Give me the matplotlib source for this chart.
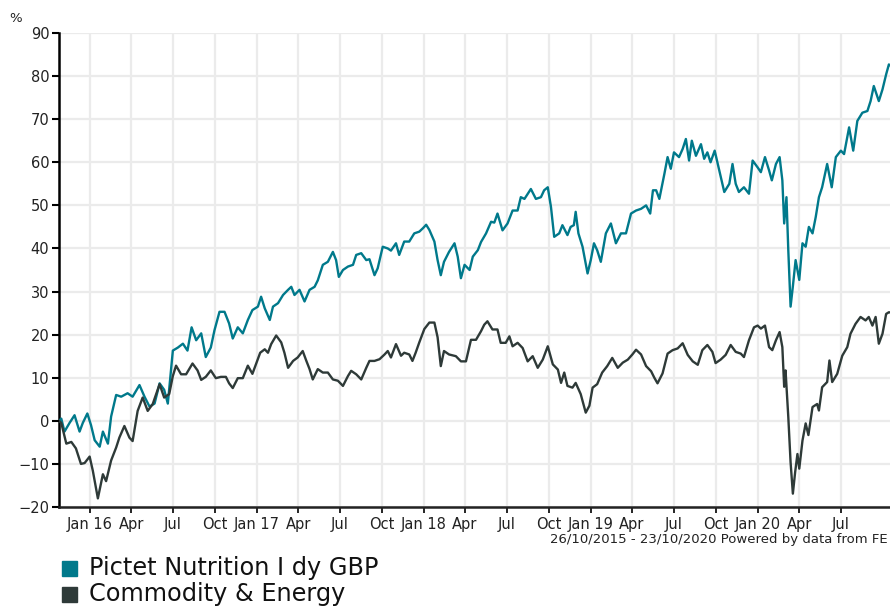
import pandas as pd
import matplotlib
matplotlib.use("Agg")
import matplotlib.pyplot as plt
from matplotlib.patches import Rectangle

# Cumulative performance (%)
pictet_dates = [
    "2015-10-26", "2015-10-31", "2015-11-07", "2015-11-18", "2015-11-29", "2015-12-10",
    "2015-12-17", "2015-12-27", "2016-01-04", "2016-01-12", "2016-01-23", "2016-01-30",
    "2016-02-10", "2016-02-17", "2016-02-28", "2016-03-10", "2016-03-24", "2016-04-04",
    "2016-04-19", "2016-04-30", "2016-05-11", "2016-05-22", "2016-06-02", "2016-06-12",
    "2016-06-20", "2016-07-01", "2016-07-12", "2016-07-23", "2016-08-02", "2016-08-11",
    "2016-08-21", "2016-09-01", "2016-09-11", "2016-09-22", "2016-09-30", "2016-10-11",
    "2016-10-22", "2016-11-01", "2016-11-09", "2016-11-20", "2016-12-01", "2016-12-12",
    "2016-12-22", "2017-01-03", "2017-01-10", "2017-01-18", "2017-01-29", "2017-02-05",
    "2017-02-16", "2017-02-27", "2017-03-10", "2017-03-17", "2017-03-24", "2017-04-04",
    "2017-04-15", "2017-04-26", "2017-05-07", "2017-05-14", "2017-05-25", "2017-06-05",
    "2017-06-16", "2017-06-23", "2017-06-29", "2017-07-08", "2017-07-19", "2017-07-30",
    "2017-08-06", "2017-08-17", "2017-08-28", "2017-09-04", "2017-09-15", "2017-09-22",
    "2017-10-03", "2017-10-14", "2017-10-21", "2017-11-01", "2017-11-08", "2017-11-19",
    "2017-11-30", "2017-12-11", "2017-12-22", "2017-12-30", "2018-01-06", "2018-01-13",
    "2018-01-24", "2018-01-31", "2018-02-07", "2018-02-14", "2018-02-25", "2018-03-09",
    "2018-03-16", "2018-03-23", "2018-03-31", "2018-04-11", "2018-04-18", "2018-04-29",
    "2018-05-06", "2018-05-17", "2018-05-28", "2018-06-04", "2018-06-11", "2018-06-22",
    "2018-07-03", "2018-07-14", "2018-07-25", "2018-08-01", "2018-08-09", "2018-08-23",
    "2018-09-03", "2018-09-14", "2018-09-21", "2018-09-29", "2018-10-06", "2018-10-13",
    "2018-10-24", "2018-10-31", "2018-11-11", "2018-11-18", "2018-11-25", "2018-11-29",
    "2018-12-05", "2018-12-14", "2018-12-25", "2019-01-01", "2019-01-08", "2019-01-15",
    "2019-01-23", "2019-02-03", "2019-02-14", "2019-02-25", "2019-03-08", "2019-03-19",
    "2019-03-30", "2019-04-10", "2019-04-21", "2019-05-02", "2019-05-11", "2019-05-17",
    "2019-05-24", "2019-05-31", "2019-06-11", "2019-06-18", "2019-06-25", "2019-07-02",
    "2019-07-13", "2019-07-21", "2019-07-28", "2019-08-04", "2019-08-10", "2019-08-19",
    "2019-08-30", "2019-09-06", "2019-09-13", "2019-09-20", "2019-09-29", "2019-10-09",
    "2019-10-20", "2019-10-31", "2019-11-07", "2019-11-14", "2019-11-21", "2019-12-02",
    "2019-12-13", "2019-12-21", "2020-01-01", "2020-01-08", "2020-01-17", "2020-01-26",
    "2020-02-01", "2020-02-10", "2020-02-18", "2020-02-24", "2020-02-28", "2020-03-04",
    "2020-03-08", "2020-03-13", "2020-03-18", "2020-03-24", "2020-04-01", "2020-04-08",
    "2020-04-15", "2020-04-22", "2020-04-30", "2020-05-07", "2020-05-14", "2020-05-21",
    "2020-06-01", "2020-06-11", "2020-06-20", "2020-07-01", "2020-07-08", "2020-07-19",
    "2020-07-28", "2020-08-06", "2020-08-17", "2020-08-28", "2020-09-04", "2020-09-11",
    "2020-09-22", "2020-09-30", "2020-10-08", "2020-10-14", "2020-10-23",
]
pictet_values = [
    0.0, 0.5, -2.5, -0.5, 1.3, -2.5,
    -0.5, 1.7, -1.0, -4.5, -6.0, -2.5,
    -5.3, 1.0, 6.0, 5.6, 6.4, 5.6,
    8.3, 5.6, 3.3, 4.0, 8.7, 7.2,
    4.0, 16.3, 17.0, 17.9, 16.3, 21.7,
    18.7, 20.3, 14.8, 17.0, 21.0, 25.3,
    25.3, 22.6, 19.1, 21.7, 20.3, 23.4,
    25.7, 26.5, 28.8, 26.1, 23.4, 26.5,
    27.3, 29.2, 30.4, 31.1, 29.2, 30.4,
    27.7, 30.4, 31.1, 32.6, 36.2, 36.9,
    39.2, 37.3, 33.4, 35.0, 35.8, 36.2,
    38.5, 38.9, 37.3, 37.5, 33.8, 35.4,
    40.4, 40.0, 39.5, 41.2, 38.5, 41.6,
    41.6, 43.5, 43.9, 44.7, 45.5, 44.3,
    41.6, 37.3, 33.8, 36.9, 39.2, 41.2,
    38.1, 33.1, 36.2, 35.0, 38.1, 39.6,
    41.5, 43.5, 46.2, 46.0, 48.1, 44.2,
    45.8, 48.8, 48.8, 51.9, 51.5, 53.8,
    51.5, 51.9, 53.5, 54.2, 49.6, 42.7,
    43.5, 45.4, 43.1, 45.0, 45.4, 48.5,
    43.5, 40.4, 34.2, 37.3, 41.2, 39.6,
    36.9, 43.5, 45.8, 41.2, 43.5, 43.5,
    48.1, 48.8, 49.2, 50.0, 48.1, 53.5,
    53.5, 51.5, 57.3, 61.2, 58.5, 62.3,
    61.2, 63.1, 65.4, 60.4, 65.0, 61.5,
    64.2, 60.8, 62.3, 60.0, 62.7, 58.1,
    53.1, 55.0, 59.6, 55.0, 53.1, 54.2,
    52.7, 60.4, 58.8, 57.7, 61.2, 58.1,
    55.8, 59.6, 61.2, 55.8, 45.8, 51.9,
    39.6, 26.5, 31.2, 37.3, 32.7, 41.2,
    40.4, 45.0, 43.5, 47.3, 51.9, 54.2,
    59.6, 54.2, 61.2, 62.7, 61.9, 68.1,
    62.7, 69.6, 71.5, 71.9, 74.2, 77.7,
    74.2, 76.9, 80.4, 82.7, 82.0,
]

commodity_dates = [
    "2015-10-26", "2015-10-31", "2015-11-11", "2015-11-22", "2015-12-02", "2015-12-13",
    "2015-12-21", "2016-01-01", "2016-01-08", "2016-01-19", "2016-01-30", "2016-02-06",
    "2016-02-17", "2016-02-28", "2016-03-06", "2016-03-17", "2016-03-28", "2016-04-04",
    "2016-04-15", "2016-04-26", "2016-05-07", "2016-05-18", "2016-06-02", "2016-06-12",
    "2016-06-23", "2016-07-01", "2016-07-08", "2016-07-19", "2016-07-30", "2016-08-13",
    "2016-08-24", "2016-09-01", "2016-09-11", "2016-09-22", "2016-10-03", "2016-10-14",
    "2016-10-25", "2016-11-01", "2016-11-09", "2016-11-20", "2016-12-01", "2016-12-12",
    "2016-12-22", "2016-12-31", "2017-01-08", "2017-01-18", "2017-01-25", "2017-02-01",
    "2017-02-12", "2017-02-23", "2017-03-02", "2017-03-10", "2017-03-21", "2017-03-31",
    "2017-04-11", "2017-04-19", "2017-04-26", "2017-05-03", "2017-05-14", "2017-05-25",
    "2017-06-05", "2017-06-16", "2017-06-27", "2017-07-08", "2017-07-19", "2017-07-26",
    "2017-08-06", "2017-08-17", "2017-08-28", "2017-09-04", "2017-09-15", "2017-09-26",
    "2017-10-07", "2017-10-14", "2017-10-21", "2017-11-01", "2017-11-12", "2017-11-19",
    "2017-11-30", "2017-12-07", "2017-12-14", "2017-12-22", "2018-01-02", "2018-01-13",
    "2018-01-24", "2018-01-31", "2018-02-07", "2018-02-14", "2018-02-25", "2018-03-12",
    "2018-03-23", "2018-04-03", "2018-04-14", "2018-04-25", "2018-05-06", "2018-05-13",
    "2018-05-20", "2018-05-31", "2018-06-11", "2018-06-18", "2018-06-29", "2018-07-07",
    "2018-07-14", "2018-07-25", "2018-08-05", "2018-08-16", "2018-08-27", "2018-09-07",
    "2018-09-18", "2018-09-29", "2018-10-10", "2018-10-21", "2018-10-28", "2018-11-04",
    "2018-11-11", "2018-11-22", "2018-11-29", "2018-12-10", "2018-12-21", "2018-12-29",
    "2019-01-05", "2019-01-15", "2019-01-26", "2019-02-06", "2019-02-17", "2019-03-01",
    "2019-03-12", "2019-03-23", "2019-04-02", "2019-04-10", "2019-04-21", "2019-05-02",
    "2019-05-13", "2019-05-20", "2019-05-27", "2019-06-07", "2019-06-18", "2019-06-29",
    "2019-07-10", "2019-07-21", "2019-08-01", "2019-08-12", "2019-08-23", "2019-09-02",
    "2019-09-13", "2019-09-24", "2019-10-01", "2019-10-12", "2019-10-23", "2019-11-03",
    "2019-11-14", "2019-11-25", "2019-12-02", "2019-12-13", "2019-12-24", "2020-01-01",
    "2020-01-08", "2020-01-17", "2020-01-26", "2020-02-02", "2020-02-10", "2020-02-18",
    "2020-02-24", "2020-02-28", "2020-03-02", "2020-03-08", "2020-03-13", "2020-03-18",
    "2020-03-23", "2020-03-28", "2020-04-01", "2020-04-08", "2020-04-15", "2020-04-21",
    "2020-04-30", "2020-05-10", "2020-05-14", "2020-05-21", "2020-06-01", "2020-06-06",
    "2020-06-12", "2020-06-23", "2020-07-04", "2020-07-15", "2020-07-22", "2020-08-02",
    "2020-08-13", "2020-08-24", "2020-08-31", "2020-09-08", "2020-09-15", "2020-09-22",
    "2020-09-30", "2020-10-08", "2020-10-14", "2020-10-23",
]
commodity_values = [
    0.0, -0.5, -5.3, -4.9, -6.4, -10.0,
    -9.8, -8.3, -11.6, -18.0, -12.4, -14.0,
    -9.2, -6.2, -3.9, -1.2, -3.9, -4.7,
    2.3, 5.4, 2.3, 3.9, 8.5, 5.4,
    6.2, 10.4, 12.8, 10.8, 10.8, 13.3,
    11.7, 9.5, 10.2, 11.7, 9.9, 10.2,
    10.2, 8.7, 7.6, 9.9, 9.9, 12.8,
    10.9, 13.5, 15.8, 16.6, 15.8, 17.8,
    19.8, 18.2, 15.8, 12.3, 13.9, 14.7,
    16.2, 13.9, 12.0, 9.6, 12.0, 11.2,
    11.2, 9.6, 9.3, 8.1, 10.4, 11.6,
    10.8, 9.6, 12.3, 13.9, 13.9, 14.3,
    15.4, 16.2, 14.7, 17.8, 15.1, 15.8,
    15.4, 13.9, 15.8, 18.2, 21.3, 22.8,
    22.8, 19.4, 12.7, 16.2, 15.4, 15.0,
    13.8, 13.8, 18.8, 18.8, 20.8, 22.3,
    23.1, 21.2, 21.2, 18.1, 18.1, 19.6,
    17.3, 18.1, 16.9, 13.8, 15.0, 12.3,
    14.2, 17.3, 13.1, 11.9, 8.8, 11.2,
    8.1, 7.7, 8.8, 6.2, 1.9, 3.5,
    7.7, 8.5, 11.2, 12.7, 14.6, 12.3,
    13.5, 14.2, 15.4, 16.5, 15.4, 12.7,
    11.5, 10.0, 8.7, 11.0, 15.6, 16.4,
    16.8, 18.0, 15.3, 13.8, 13.0, 16.4,
    17.6, 16.0, 13.4, 14.2, 15.3, 17.6,
    16.0, 15.6, 14.8, 18.7, 21.7, 22.1,
    21.4, 22.1, 17.1, 16.4, 18.7, 20.6,
    17.1, 7.9, 11.7, 0.9, -9.6, -16.9,
    -11.9, -7.7, -11.1, -4.6, -0.6, -3.3,
    3.2, 3.9, 2.4, 7.8, 9.0, 14.0,
    9.0, 10.9, 15.1, 17.1, 20.2, 22.5,
    24.1, 23.3, 24.1, 22.1, 24.1, 17.9,
    20.2, 24.8, 25.2, 25.0,
]

series_names = ["Pictet Nutrition I dy GBP", "Commodity & Energy"]
series_colors = ["#00798b", "#2e3a38"]

start, end = pd.Timestamp("2015-10-26"), pd.Timestamp("2020-10-23")
tick_dates = pd.date_range("2016-01-01", "2020-07-01", freq="QS")
tick_labels = [f"Jan {d:%y}" if d.month == 1 else f"{d:%b}" for d in tick_dates]
yticks = list(range(-20, 91, 10))

fig = plt.figure(figsize=(8.9, 6.06), dpi=100)
W, H = 890, 606
ax = fig.add_axes([59 / W, 1 - 507 / H, (893 - 59) / W, (507 - 33) / H])

ax.plot(pd.to_datetime(pictet_dates), pictet_values, color=series_colors[0], lw=1.7, zorder=3)
ax.plot(pd.to_datetime(commodity_dates), commodity_values, color=series_colors[1], lw=1.7, zorder=3)

ax.set_xlim(start, end)
ax.set_ylim(-20, 90)
ax.set_yticks(yticks)
ax.set_xticks(tick_dates)
ax.set_xticklabels(tick_labels)
ax.grid(True, color="#ebebeb", lw=1.6, zorder=0)
ax.set_axisbelow(True)

for side in ["top", "right"]:
    ax.spines[side].set_visible(False)
ax.spines["left"].set_linewidth(1.8)
ax.spines["left"].set_color("black")
ax.spines["bottom"].set_linewidth(1.8)
ax.spines["bottom"].set_color("#222222")
ax.tick_params(axis="y", length=5, width=1.5, labelsize=10.5, pad=2, colors="black")
ax.tick_params(axis="x", length=4, width=1.2, labelsize=10.5, pad=3, colors="black")
for lbl in ax.get_xticklabels() + ax.get_yticklabels():
    lbl.set_color("#222222")

fig.text(16 / W, 1 - 18 / H, "%", fontsize=9.5, ha="center", va="center", color="#222222")
fig.text(888 / W, 1 - 540 / H, "26/10/2015 - 23/10/2020 Powered by data from FE",
         fontsize=9.5, ha="right", va="center", color="#222222")

# legend: coloured squares with labels underneath the chart
for i, (name, col) in enumerate(zip(series_names, series_colors)):
    y = 568 + 26 * i
    fig.patches.append(Rectangle((62 / W, 1 - (y + 8) / H), 15 / W, 15 / H,
                                 transform=fig.transFigure, color=col))
    fig.text(89 / W, 1 - y / H, name, fontsize=17.3, ha="left", va="center", color="#111111")

fig.savefig("out.png", dpi=100)
